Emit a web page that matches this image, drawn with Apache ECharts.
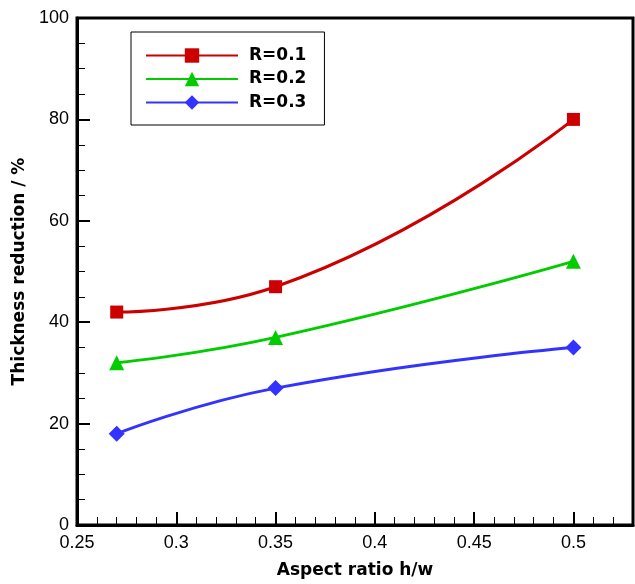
<!DOCTYPE html>
<html>
<head>
<meta charset="utf-8">
<script src="https://cdn.jsdelivr.net/npm/echarts@6/dist/echarts.min.js"></script>
<style>html,body{margin:0;padding:0;background:#fff}#c{width:635px;height:584px}</style>
</head>
<body>
<div id="c"></div>
<script>
const aspectRatio = [0.27, 0.35, 0.5];
const seriesNames = ['R=0.1', 'R=0.2', 'R=0.3'];
const r01 = [42, 47, 80];
const r02 = [32, 37, 52];
const r03 = [18, 27, 35];
const colors = ['#cc0000', '#00cc00', '#3333ff'];
const symbols = ['rect', 'triangle', 'diamond'];
const symbolSizes = [13, 15, 16];
const values = [r01, r02, r03];

const chart = echarts.init(document.getElementById('c'));
const font = 'Liberation Sans, Arial, sans-serif';
const boldFont = 'DejaVu Sans, sans-serif';
chart.setOption({
  animation: false,
  grid: { left: 77, right: 2, top: 18, bottom: 58, show: true, borderColor: '#000', borderWidth: 3, backgroundColor: 'transparent' },
  legend: {
    orient: 'vertical', left: 131, top: 32,
    padding: [15, 18, 14, 14],
    borderColor: '#000', borderWidth: 1,
    itemWidth: 92, itemHeight: 18, itemGap: 6.5,
    textStyle: { fontFamily: boldFont, fontSize: 17, fontWeight: 'bold', color: '#000', padding: [0, 0, 0, 6] },
    data: seriesNames
  },
  xAxis: {
    type: 'value', min: 0.25, max: 0.53, interval: 0.05,
    name: 'Aspect ratio h/w', nameLocation: 'middle', nameGap: 37,
    nameTextStyle: { fontFamily: boldFont, fontSize: 17, fontWeight: 'bold', color: '#000' },
    axisLine: { show: true, lineStyle: { color: '#000', width: 3 } },
    axisTick: { show: true, inside: true, length: 13, lineStyle: { color: '#000', width: 2 } },
    minorTick: { show: true, splitNumber: 5, length: 8, lineStyle: { color: '#000', width: 1 } },
    splitLine: { show: false },
    axisLabel: { fontFamily: font, fontSize: 18, color: '#000', margin: 9, showMaxLabel: false,
      formatter: v => String(parseFloat(v.toFixed(2))) }
  },
  yAxis: {
    type: 'value', min: 0, max: 100, interval: 20,
    name: 'Thickness reduction / %', nameLocation: 'middle', nameGap: 44,
    nameTextStyle: { fontFamily: boldFont, fontSize: 17, fontWeight: 'bold', color: '#000' },
    axisLine: { show: true, lineStyle: { color: '#000', width: 3 } },
    axisTick: { show: true, inside: true, length: 13, lineStyle: { color: '#000', width: 2 } },
    minorTick: { show: true, splitNumber: 4, length: 8, lineStyle: { color: '#000', width: 1 } },
    splitLine: { show: false },
    axisLabel: { fontFamily: font, fontSize: 18, color: '#000', margin: 8 }
  },
  series: seriesNames.map((n, i) => ({
    name: n, type: 'line', smooth: 0.5,
    data: aspectRatio.map((x, j) => [x, values[i][j]]),
    symbol: symbols[i], symbolSize: symbolSizes[i],
    lineStyle: { color: colors[i], width: 3 },
    itemStyle: { color: colors[i] }
  }))
});
</script>
</body>
</html>
